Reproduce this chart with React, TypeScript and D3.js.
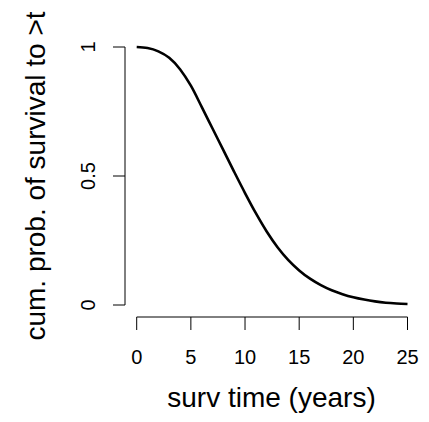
import React from "react";
import * as d3 from "d3";

const years = [0,1,2,3,4,5,6,7,8,9,10,11,12,13,14,15,16,17,18,19,20,21,22,23,24,25];
const survival = [1.0,0.996,0.983,0.958,0.914,0.850,0.768,0.684,0.600,0.516,0.434,0.356,0.285,0.224,0.174,0.134,0.102,0.077,0.057,0.042,0.030,0.021,0.014,0.009,0.006,0.004];
const xTicks = [0,5,10,15,20,25];
const yTicks = [0,0.5,1];
const yTickLabels = ["0","0.5","1"];
const xTitle = "surv time (years)";
const yTitle = "cum. prob. of survival to >t";

export default function App() {
  const W = 429, H = 422;
  const x = d3.scaleLinear().domain([0, 25]).range([136.7, 407.5]);
  const y = d3.scaleLinear().domain([0, 1]).range([305, 47]);
  const axisY = 317;
  const axisX = 125;
  const font = "'Liberation Sans', Arial, Helvetica, sans-serif";
  const line = d3.line<number>()
    .x((_, i) => x(years[i]))
    .y((d) => y(d))
    .curve(d3.curveMonotoneX);
  return (
    <svg width={W} height={H} style={{ position: "absolute", left: 0, top: 0, background: "#fff" }} fontFamily={font}>
      <rect x={0} y={0} width={W} height={H} fill="#fff" />
      {/* x axis */}
      <line x1={x(0)} x2={x(25)} y1={axisY} y2={axisY} stroke="#000" strokeWidth={1} />
      {xTicks.map((t) => (
        <g key={t}>
          <line x1={x(t)} x2={x(t)} y1={axisY} y2={axisY + 13} stroke="#000" strokeWidth={1} />
          <text x={x(t)} y={364} textAnchor="middle" fontSize={20} fill="#000">{t}</text>
        </g>
      ))}
      {/* y axis */}
      <line x1={axisX} x2={axisX} y1={y(0)} y2={y(1)} stroke="#000" strokeWidth={1} />
      {yTicks.map((t, i) => (
        <g key={t}>
          <line x1={axisX} x2={axisX - 12} y1={y(t)} y2={y(t)} stroke="#000" strokeWidth={1} />
          <text transform={`translate(95,${y(t)}) rotate(-90)`} textAnchor="middle" fontSize={20} fill="#000">{yTickLabels[i]}</text>
        </g>
      ))}
      {/* curve */}
      <path d={line(survival) || ""} fill="none" stroke="#000" strokeWidth={2.6} />
      {/* titles */}
      <text x={271.5} y={407} textAnchor="middle" fontSize={28} fill="#000">{xTitle}</text>
      <text transform={`translate(45,176) rotate(-90)`} textAnchor="middle" fontSize={28} fill="#000">{yTitle}</text>
    </svg>
  );
}
